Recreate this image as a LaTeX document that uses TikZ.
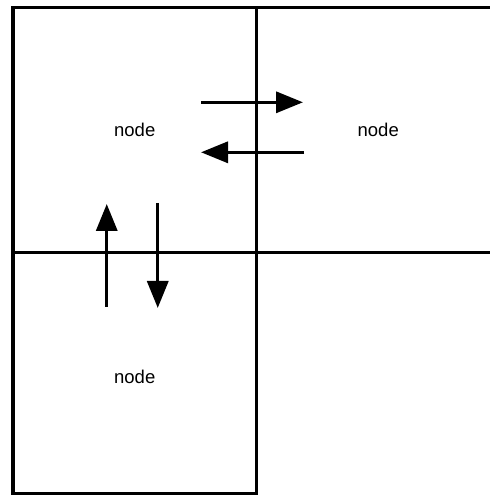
\documentclass[tikz,border=0pt]{standalone}
\usepackage{fontspec}
\setmainfont{Liberation Sans}
\usetikzlibrary{positioning,arrows.meta}

\begin{document}
\begin{tikzpicture}[
    x=1pt, y=1pt,
    >={Triangle[length=27pt, width=21pt]},
    line width=3.4pt,
    node distance=0pt,
    cellnode/.style={
        rectangle, draw=black, inner sep=0pt, outer sep=0pt,
        minimum width=243.5pt, minimum height=244.8pt,
        font=\fontsize{18.5}{22}\selectfont
      },
  ]
  \clip (0,0) rectangle (490,496);
  \node[cellnode](nw) at (134.75,366.1) {node};
  \node[cellnode](ne) [right=of nw] {node};
  \node[cellnode, minimum height=241.2pt,
    label={[yshift=-4pt, font=\fontsize{18.5}{22}\selectfont]center:node}](sw) [below=of nw] {};
  % horizontal pair
  \draw[->] ([shift={(-55.5,27.6)}]nw.east) -- ([shift={(46.5,27.6)}]ne.west);
  \draw[->] ([shift={(47.5,-22.4)}]ne.west) -- ([shift={(-55.5,-22.4)}]nw.east);
  % vertical pair
  \draw[->] ([shift={(-28,-54.4)}]sw.north) -- ([shift={(-28,48.3)}]nw.south);
  \draw[->] ([shift={(23,49.3)}]nw.south) -- ([shift={(23,-55.7)}]sw.north);
\end{tikzpicture}
\end{document}
